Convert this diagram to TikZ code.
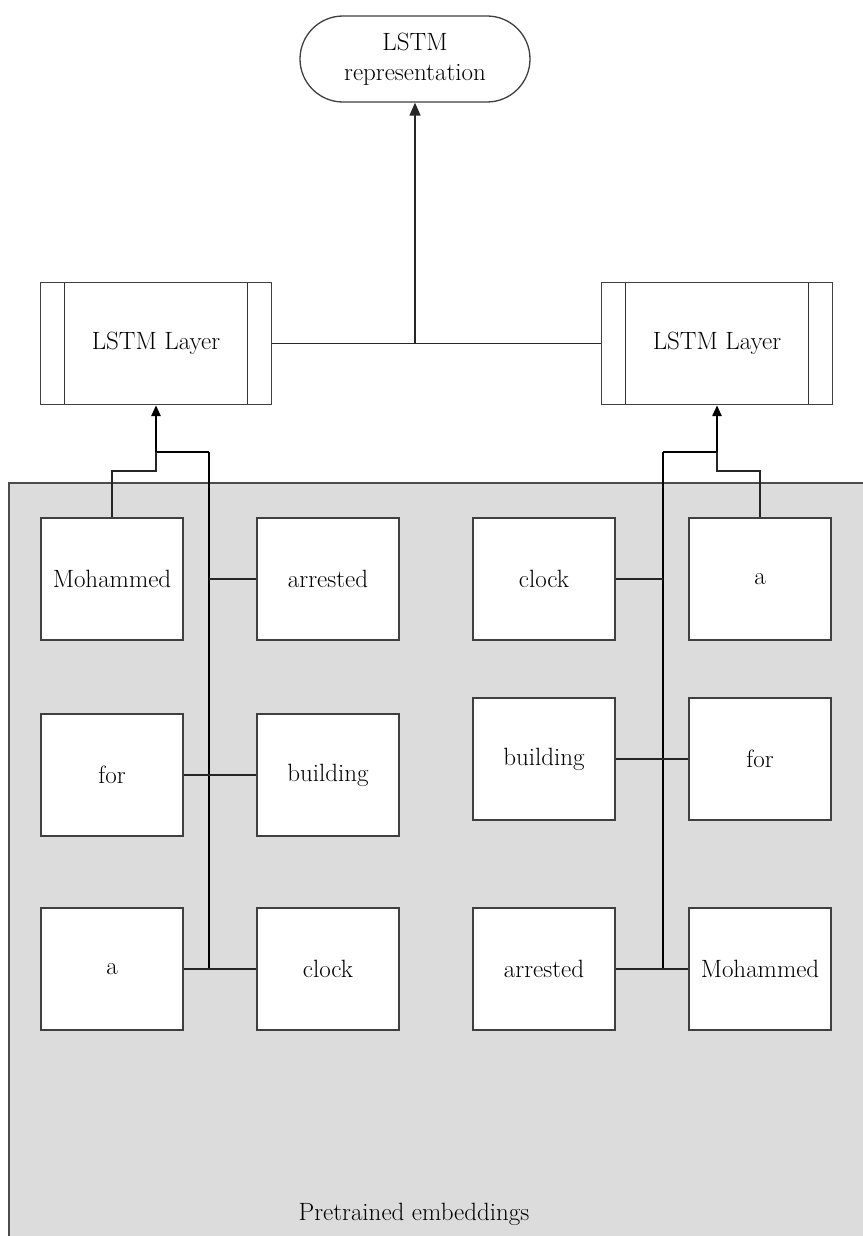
\documentclass[tikz,border=0pt]{standalone}
\usetikzlibrary{arrows.meta, positioning}
\definecolor{EmbedGray}{RGB}{220, 220, 220}

\begin{document}
\begin{tikzpicture}[x=1pt, y=-1pt, font=\fontsize{25}{30}\selectfont,
    word/.style={rectangle, draw=black!75, fill=white, line width=1.3pt,
                 minimum width=142pt, minimum height=122pt, inner sep=0pt},
    layer/.style={rectangle, draw=black!75, fill=white, line width=1.3pt,
                  minimum width=231pt, minimum height=122pt, inner sep=0pt,
                  path picture={
                    \draw[black!80, line width=1.3pt]
                      ([xshift=24pt]path picture bounding box.north west) --
                      ([xshift=24pt]path picture bounding box.south west)
                      ([xshift=-24pt]path picture bounding box.north east) --
                      ([xshift=-24pt]path picture bounding box.south east);}},
    link/.style={black!85, line width=1.3pt},
    feed/.style={black, line width=2.6pt}]
    % Fixed page size
    \path[use as bounding box] (0,0) rectangle (862,1236);

    % Shaded region holding the word embeddings
    \fill[EmbedGray, draw=black!70, line width=1.3pt] (9,483) rectangle (880,1250);
    \node (embedlabel) at (414,1214) {Pretrained embeddings};

    % Output node
    \node[rectangle, rounded corners=43pt, draw=black!75, fill=white, line width=1.3pt,
          minimum width=230pt, minimum height=86pt, align=center] (rep) at (415,59)
          {LSTM\\representation};

    % The two LSTM layers
    \node[layer] (lstmL) at (156,343.5) {LSTM Layer};
    \node[layer] (lstmR) at (717,343.5) {LSTM Layer};

    % Forward sentence
    \node[word] (mohL) at (112,579) {Mohammed};
    \node[word] (arrL) at (328,579) {arrested};
    \node[word] (forL) at (112,775) {for};
    \node[word] (bldL) at (328,775) {building};
    \node[word] (aL)   at (112,969) {a};
    \node[word] (clkL) at (328,969) {clock};

    % Reversed sentence
    \node[word] (clkR) at (544,579) {clock};
    \node[word] (aR)   at (760,579) {a};
    \node[word] (bldR) at (544,759) {building};
    \node[word] (forR) at (760,759) {for};
    \node[word] (arrR) at (544,969) {arrested};
    \node[word] (mohR) at (760,969) {Mohammed};

    % Joining both layers into the output
    \draw[link] (lstmL.east) -- (lstmR.west);
    \draw[link, -{Triangle[length=13pt, width=11pt]}] (lstmL.east -| rep.south) -- (rep.south);

    % Left bus
    \coordinate (busLtop) at (209,452);
    \coordinate (busLbot) at (209,969);
    \coordinate (stepL) at (156,471);
    \draw[black, line width=1.8pt] (busLbot) -- (busLtop);
    \draw[feed, -{Triangle[length=11pt, width=9pt]}] (busLtop) -| (lstmL.south);
    \draw[link] (mohL.north) |- (stepL) -- (stepL |- busLtop);
    \draw[link] (arrL.west) -- (arrL.west -| busLtop);
    \draw[link] (forL.east) -- (bldL.west);
    \draw[link] (aL.east) -- (clkL.west);

    % Right bus
    \coordinate (busRtop) at (663,452);
    \coordinate (busRbot) at (663,969);
    \coordinate (stepR) at (717,471);
    \draw[black, line width=1.8pt] (busRbot) -- (busRtop);
    \draw[feed, -{Triangle[length=11pt, width=9pt]}] (busRtop) -| (lstmR.south);
    \draw[link] (aR.north) |- (stepR) -- (stepR |- busRtop);
    \draw[link] (clkR.east) -- (clkR.east -| busRtop);
    \draw[link] (bldR.east) -- (forR.west);
    \draw[link] (arrR.east) -- (mohR.west);
\end{tikzpicture}
\end{document}
